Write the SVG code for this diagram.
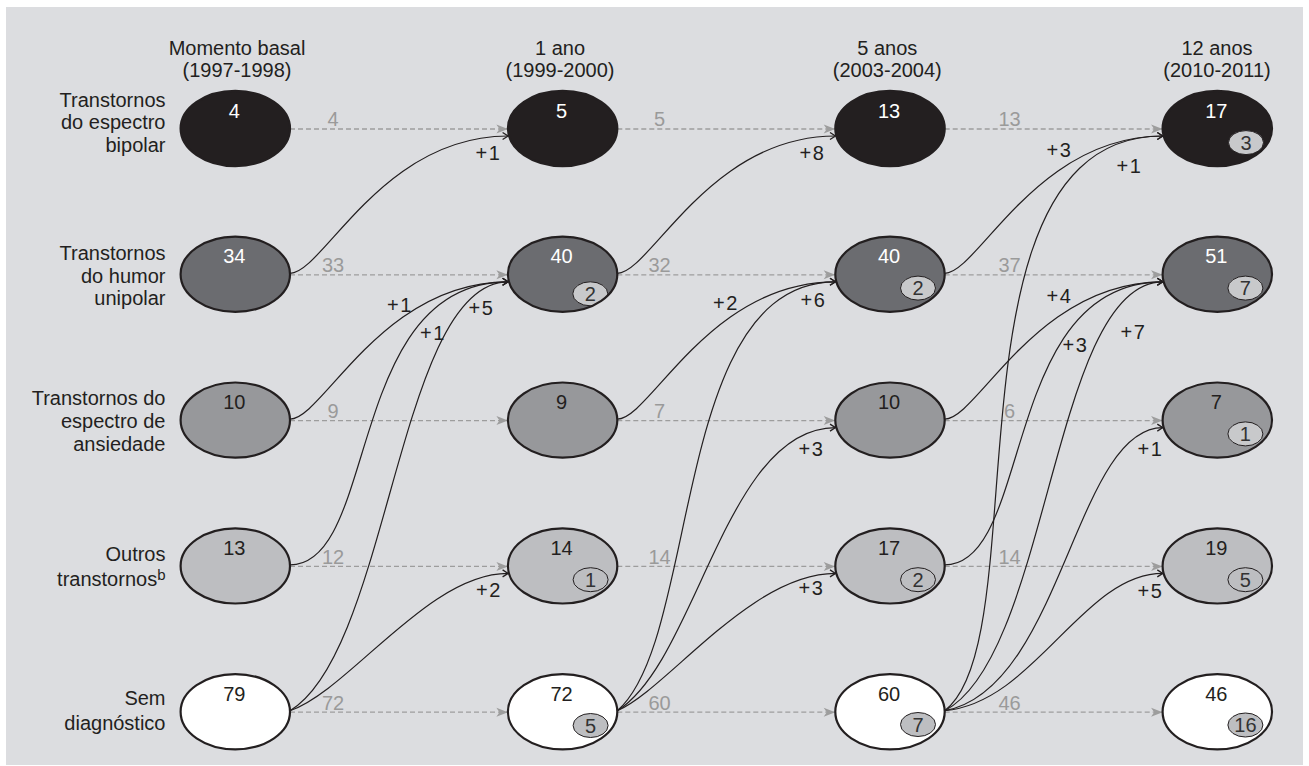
<svg xmlns="http://www.w3.org/2000/svg" width="1309" height="766" viewBox="0 0 1309 766">
<style>
text{font-family:"Liberation Sans",Arial,sans-serif;font-size:20px}
.hdr{text-anchor:middle;fill:#231f20}
.lbl{text-anchor:end;fill:#231f20}
.nw{text-anchor:middle;fill:#ffffff}
.nd{text-anchor:middle;fill:#231f20}
.gl{text-anchor:middle;fill:#9a9a9a}
.bl{text-anchor:middle;fill:#231f20;letter-spacing:1.5px}
.bt{text-anchor:middle;fill:#333333}
.dash{stroke:#9d9d9d;stroke-width:1.3;stroke-dasharray:5 3;fill:none;marker-end:url(#ga)}
.cur{stroke:#231f20;stroke-width:1.2;fill:none;marker-end:url(#ba)}
.ol{fill:none;stroke:#231f20;stroke-width:2.2}
.f1{fill:#231f20}.f2{fill:#6b6c70}.f3{fill:#97989b}.f4{fill:#bdbec1}.f5{fill:#ffffff}
.bL{fill:#c8c9cb;stroke:#231f20;stroke-width:1}
.bG{fill:#bdbec1;stroke:#231f20;stroke-width:1}
</style>
<defs>
<marker id="ba" viewBox="-7 -5 8 10" markerWidth="8" markerHeight="10" refX="0" refY="0" orient="auto" markerUnits="userSpaceOnUse" overflow="visible">
<path d="M-5.5,-3.5 L0,0 L-5.5,3.5" fill="none" stroke="#231f20" stroke-width="1.3"/>
</marker>
<marker id="ga" viewBox="-12 -6 13 12" markerWidth="13" markerHeight="12" refX="0" refY="0" orient="auto" markerUnits="userSpaceOnUse" overflow="visible">
<path d="M0.5,0 L-11,-4.5 L-8,0 L-11,4.5 Z" fill="#9d9d9d" stroke="none"/>
</marker>
<clipPath id="k22" clipPathUnits="userSpaceOnUse"><ellipse cx="562.6" cy="274.3" rx="54.7" ry="37.6"/></clipPath>
<clipPath id="k24" clipPathUnits="userSpaceOnUse"><ellipse cx="562.6" cy="565.9" rx="54.7" ry="37.6"/></clipPath>
<clipPath id="k25" clipPathUnits="userSpaceOnUse"><ellipse cx="562.6" cy="711.7" rx="54.7" ry="37.6"/></clipPath>
<clipPath id="k32" clipPathUnits="userSpaceOnUse"><ellipse cx="890" cy="274.3" rx="54.7" ry="37.6"/></clipPath>
<clipPath id="k34" clipPathUnits="userSpaceOnUse"><ellipse cx="890" cy="565.9" rx="54.7" ry="37.6"/></clipPath>
<clipPath id="k35" clipPathUnits="userSpaceOnUse"><ellipse cx="890" cy="711.7" rx="54.7" ry="37.6"/></clipPath>
<clipPath id="k41" clipPathUnits="userSpaceOnUse"><ellipse cx="1217.3" cy="128.5" rx="54.7" ry="37.6"/></clipPath>
<clipPath id="k42" clipPathUnits="userSpaceOnUse"><ellipse cx="1217.3" cy="274.3" rx="54.7" ry="37.6"/></clipPath>
<clipPath id="k43" clipPathUnits="userSpaceOnUse"><ellipse cx="1217.3" cy="420.1" rx="54.7" ry="37.6"/></clipPath>
<clipPath id="k44" clipPathUnits="userSpaceOnUse"><ellipse cx="1217.3" cy="565.9" rx="54.7" ry="37.6"/></clipPath>
<clipPath id="k45" clipPathUnits="userSpaceOnUse"><ellipse cx="1217.3" cy="711.7" rx="54.7" ry="37.6"/></clipPath>
</defs>

<rect x="0" y="0" width="1309" height="766" fill="#ffffff"/>
<rect x="6" y="7" width="1297" height="758" fill="#dcdde0"/>

<g id="headers">
<text class="hdr" x="237" y="54.5">Momento basal<tspan x="237" y="77.3">(1997-1998)</tspan></text>
<text class="hdr" x="560" y="54.5">1 ano<tspan x="560" y="77.3">(1999-2000)</tspan></text>
<text class="hdr" x="887.3" y="54.5">5 anos<tspan x="887.3" y="77.3">(2003-2004)</tspan></text>
<text class="hdr" x="1217" y="54.5">12 anos<tspan x="1217" y="77.3">(2010-2011)</tspan></text>
</g>

<g id="row-labels">
<text class="lbl" x="165.5" y="106.7">Transtornos<tspan x="165.5" y="129.3">do espectro</tspan><tspan x="165.5" y="151.7">bipolar</tspan></text>
<text class="lbl" x="165.5" y="260">Transtornos<tspan x="165.5" y="282.7">do humor</tspan><tspan x="165.5" y="305">unipolar</tspan></text>
<text class="lbl" x="165.5" y="405">Transtornos do<tspan x="165.5" y="427.5">espectro de</tspan><tspan x="165.5" y="451">ansiedade</tspan></text>
<text class="lbl" x="165.5" y="561">Outros</text>
<text class="lbl" x="165.5" y="586">transtornos<tspan dy="-6" font-size="15">b</tspan></text>
<text class="lbl" x="165.5" y="705">Sem<tspan x="165.5" y="729.5">diagnóstico</tspan></text>
</g>

<g id="connectors">
<path class="dash" d="M290,129 H507.4"/>
<path class="dash" d="M290,274.8 H507.4"/>
<path class="dash" d="M290,420.6 H507.4"/>
<path class="dash" d="M290,566.4 H507.4"/>
<path class="dash" d="M290,712.2 H507.4"/>
<path class="dash" d="M617.3,129 H834.7"/>
<path class="dash" d="M617.3,274.8 H834.7"/>
<path class="dash" d="M617.3,420.6 H834.7"/>
<path class="dash" d="M617.3,566.4 H834.7"/>
<path class="dash" d="M617.3,712.2 H834.7"/>
<path class="dash" d="M944.7,129 H1162.1"/>
<path class="dash" d="M944.7,274.8 H1162.1"/>
<path class="dash" d="M944.7,420.6 H1162.1"/>
<path class="dash" d="M944.7,566.4 H1162.1"/>
<path class="dash" d="M944.7,712.2 H1162.1"/>

<path class="cur" d="M290,273.3 C323,273.3 381.1,136 508.1,136"/>
<path class="cur" d="M290,419.1 C323,419.1 381.1,281.8 508.1,281.8"/>
<path class="cur" d="M290,564.9 C379,564.9 345.1,281.8 508.1,281.8"/>
<path class="cur" d="M290,710.7 C390,650.7 398.1,281.8 508.1,281.8"/>
<path class="cur" d="M290,710.7 C350,689.7 428.1,573.4 508.1,573.4"/>

<path class="cur" d="M617.3,273.3 C650.3,273.3 708.5,136 835.5,136"/>
<path class="cur" d="M617.3,419.1 C650.3,419.1 708.5,281.8 835.5,281.8"/>
<path class="cur" d="M617.3,710.7 C700.3,639.3 670.8,281.8 835.5,281.8"/>
<path class="cur" d="M617.3,710.7 C697.3,660.7 725.5,427.6 835.5,427.6"/>
<path class="cur" d="M617.3,710.7 C667.3,689.3 750.8,573.4 835.5,573.4"/>

<path class="cur" d="M944.7,273.3 C977.7,273.3 1035.8,136 1162.8,136"/>
<path class="cur" d="M944.7,710.7 C1039.7,639.3 935.4,136 1162.8,136"/>
<path class="cur" d="M944.7,419.1 C977.7,419.1 1035.8,281.8 1162.8,281.8"/>
<path class="cur" d="M944.7,564.9 C1033.7,564.9 999.8,281.8 1162.8,281.8"/>
<path class="cur" d="M944.7,710.7 C1049.7,655.7 1052.8,281.8 1162.8,281.8"/>
<path class="cur" d="M944.7,710.7 C1061.7,689.3 1075.3,427.6 1162.8,427.6"/>
<path class="cur" d="M944.7,710.7 C1034.7,702.7 1082.8,573.4 1162.8,573.4"/>
</g>

<g id="connector-labels">
<text class="gl" x="333" y="126">4</text>
<text class="gl" x="333" y="272.3">33</text>
<text class="gl" x="333" y="418">9</text>
<text class="gl" x="333" y="564">12</text>
<text class="gl" x="333" y="710">72</text>
<text class="gl" x="659.5" y="126">5</text>
<text class="gl" x="659.5" y="272.3">32</text>
<text class="gl" x="659.5" y="418">7</text>
<text class="gl" x="659.5" y="564">14</text>
<text class="gl" x="659.5" y="710">60</text>
<text class="gl" x="1009.5" y="126">13</text>
<text class="gl" x="1009.5" y="272.3">37</text>
<text class="gl" x="1009.5" y="418">6</text>
<text class="gl" x="1009.5" y="564">14</text>
<text class="gl" x="1009.5" y="710">46</text>

<text class="bl" x="488.5" y="160">+1</text>
<text class="bl" x="400" y="311.7">+1</text>
<text class="bl" x="433" y="340">+1</text>
<text class="bl" x="481.5" y="315">+5</text>
<text class="bl" x="489" y="596.7">+2</text>
<text class="bl" x="812.5" y="160">+8</text>
<text class="bl" x="726" y="310">+2</text>
<text class="bl" x="813.5" y="306.7">+6</text>
<text class="bl" x="811.5" y="456">+3</text>
<text class="bl" x="811.5" y="595">+3</text>
<text class="bl" x="1059.5" y="156.7">+3</text>
<text class="bl" x="1129.5" y="172.7">+1</text>
<text class="bl" x="1059.5" y="303.3">+4</text>
<text class="bl" x="1075.5" y="352.3">+3</text>
<text class="bl" x="1133.5" y="339">+7</text>
<text class="bl" x="1150.5" y="456">+1</text>
<text class="bl" x="1150.5" y="598.3">+5</text>
</g>

<g id="node-c1-r1"><ellipse class="f1" cx="235.3" cy="128.5" rx="54.7" ry="37.6"/><ellipse class="ol" cx="235.3" cy="128.5" rx="54.7" ry="37.6"/><text class="nw" x="234.3" y="117.5">4</text></g>
<g id="node-c1-r2"><ellipse class="f2" cx="235.3" cy="274.3" rx="54.7" ry="37.6"/><ellipse class="ol" cx="235.3" cy="274.3" rx="54.7" ry="37.6"/><text class="nw" x="234.3" y="263.3">34</text></g>
<g id="node-c1-r3"><ellipse class="f3" cx="235.3" cy="420.1" rx="54.7" ry="37.6"/><ellipse class="ol" cx="235.3" cy="420.1" rx="54.7" ry="37.6"/><text class="nd" x="234.3" y="409.1">10</text></g>
<g id="node-c1-r4"><ellipse class="f4" cx="235.3" cy="565.9" rx="54.7" ry="37.6"/><ellipse class="ol" cx="235.3" cy="565.9" rx="54.7" ry="37.6"/><text class="nd" x="234.3" y="554.9">13</text></g>
<g id="node-c1-r5"><ellipse class="f5" cx="235.3" cy="711.7" rx="54.7" ry="37.6"/><ellipse class="ol" cx="235.3" cy="711.7" rx="54.7" ry="37.6"/><text class="nd" x="234.3" y="700.7">79</text></g>

<g id="node-c2-r1"><ellipse class="f1" cx="562.6" cy="128.5" rx="54.7" ry="37.6"/><ellipse class="ol" cx="562.6" cy="128.5" rx="54.7" ry="37.6"/><text class="nw" x="561.6" y="117.5">5</text></g>
<g id="node-c2-r2"><ellipse class="f2" cx="562.6" cy="274.3" rx="54.7" ry="37.6"/><ellipse class="bL" clip-path="url(#k22)" cx="590.3" cy="293.8" rx="17.5" ry="12"/><text class="bt" x="590.3" y="300.8">2</text><ellipse class="ol" cx="562.6" cy="274.3" rx="54.7" ry="37.6"/><text class="nw" x="561.6" y="263.3">40</text></g>
<g id="node-c2-r3"><ellipse class="f3" cx="562.6" cy="420.1" rx="54.7" ry="37.6"/><ellipse class="ol" cx="562.6" cy="420.1" rx="54.7" ry="37.6"/><text class="nd" x="561.6" y="409.1">9</text></g>
<g id="node-c2-r4"><ellipse class="f4" cx="562.6" cy="565.9" rx="54.7" ry="37.6"/><ellipse class="bG" clip-path="url(#k24)" cx="590.6" cy="579.7" rx="17.5" ry="12"/><text class="bt" x="590.6" y="586.7">1</text><ellipse class="ol" cx="562.6" cy="565.9" rx="54.7" ry="37.6"/><text class="nd" x="561.6" y="554.9">14</text></g>
<g id="node-c2-r5"><ellipse class="f5" cx="562.6" cy="711.7" rx="54.7" ry="37.6"/><ellipse class="bG" clip-path="url(#k25)" cx="590.6" cy="725.5" rx="17.5" ry="12"/><text class="bt" x="590.6" y="732.5">5</text><ellipse class="ol" cx="562.6" cy="711.7" rx="54.7" ry="37.6"/><text class="nd" x="561.6" y="700.7">72</text></g>

<g id="node-c3-r1"><ellipse class="f1" cx="890" cy="128.5" rx="54.7" ry="37.6"/><ellipse class="ol" cx="890" cy="128.5" rx="54.7" ry="37.6"/><text class="nw" x="889" y="117.5">13</text></g>
<g id="node-c3-r2"><ellipse class="f2" cx="890" cy="274.3" rx="54.7" ry="37.6"/><ellipse class="bL" clip-path="url(#k32)" cx="918" cy="288.1" rx="17.5" ry="12"/><text class="bt" x="918" y="295.1">2</text><ellipse class="ol" cx="890" cy="274.3" rx="54.7" ry="37.6"/><text class="nw" x="889" y="263.3">40</text></g>
<g id="node-c3-r3"><ellipse class="f3" cx="890" cy="420.1" rx="54.7" ry="37.6"/><ellipse class="ol" cx="890" cy="420.1" rx="54.7" ry="37.6"/><text class="nd" x="889" y="409.1">10</text></g>
<g id="node-c3-r4"><ellipse class="f4" cx="890" cy="565.9" rx="54.7" ry="37.6"/><ellipse class="bG" clip-path="url(#k34)" cx="918" cy="579.7" rx="17.5" ry="12"/><text class="bt" x="918" y="586.7">2</text><ellipse class="ol" cx="890" cy="565.9" rx="54.7" ry="37.6"/><text class="nd" x="889" y="554.9">17</text></g>
<g id="node-c3-r5"><ellipse class="f5" cx="890" cy="711.7" rx="54.7" ry="37.6"/><ellipse class="bG" clip-path="url(#k35)" cx="918" cy="724.5" rx="17.5" ry="12"/><text class="bt" x="918" y="731.5">7</text><ellipse class="ol" cx="890" cy="711.7" rx="54.7" ry="37.6"/><text class="nd" x="889" y="700.7">60</text></g>

<g id="node-c4-r1"><ellipse class="f1" cx="1217.3" cy="128.5" rx="54.7" ry="37.6"/><ellipse class="bL" clip-path="url(#k41)" cx="1246" cy="142.6" rx="17.5" ry="12"/><text class="bt" x="1246" y="149.6">3</text><ellipse class="ol" cx="1217.3" cy="128.5" rx="54.7" ry="37.6"/><text class="nw" x="1216.3" y="117.5">17</text></g>
<g id="node-c4-r2"><ellipse class="f2" cx="1217.3" cy="274.3" rx="54.7" ry="37.6"/><ellipse class="bL" clip-path="url(#k42)" cx="1245.4" cy="288.1" rx="17.5" ry="12"/><text class="bt" x="1245.4" y="295.1">7</text><ellipse class="ol" cx="1217.3" cy="274.3" rx="54.7" ry="37.6"/><text class="nw" x="1216.3" y="263.3">51</text></g>
<g id="node-c4-r3"><ellipse class="f3" cx="1217.3" cy="420.1" rx="54.7" ry="37.6"/><ellipse class="bL" clip-path="url(#k43)" cx="1245.4" cy="433.9" rx="17.5" ry="12"/><text class="bt" x="1245.4" y="440.9">1</text><ellipse class="ol" cx="1217.3" cy="420.1" rx="54.7" ry="37.6"/><text class="nd" x="1216.3" y="409.1">7</text></g>
<g id="node-c4-r4"><ellipse class="f4" cx="1217.3" cy="565.9" rx="54.7" ry="37.6"/><ellipse class="bG" clip-path="url(#k44)" cx="1245.4" cy="579.7" rx="17.5" ry="12"/><text class="bt" x="1245.4" y="586.7">5</text><ellipse class="ol" cx="1217.3" cy="565.9" rx="54.7" ry="37.6"/><text class="nd" x="1216.3" y="554.9">19</text></g>
<g id="node-c4-r5"><ellipse class="f5" cx="1217.3" cy="711.7" rx="54.7" ry="37.6"/><ellipse class="bG" clip-path="url(#k45)" cx="1245.4" cy="725" rx="17.5" ry="12"/><text class="bt" x="1245.4" y="732">16</text><ellipse class="ol" cx="1217.3" cy="711.7" rx="54.7" ry="37.6"/><text class="nd" x="1216.3" y="700.7">46</text></g>
</svg>
